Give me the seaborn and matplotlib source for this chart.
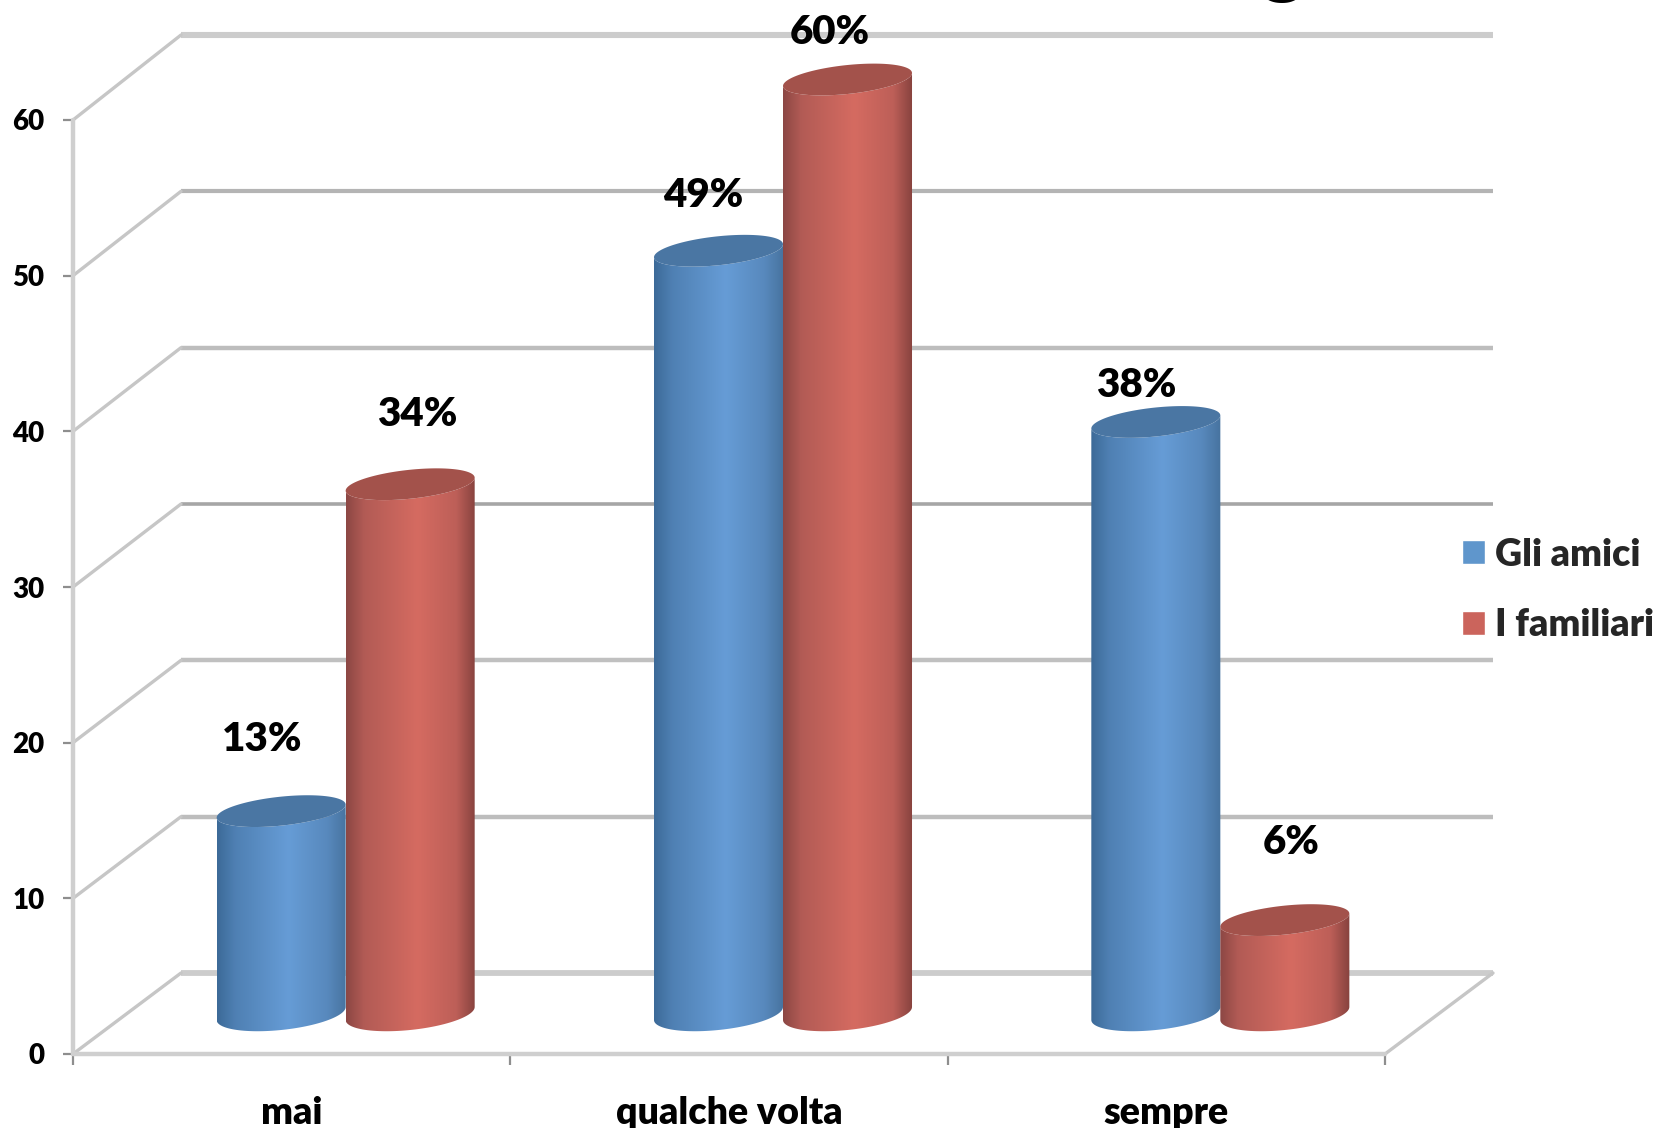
import numpy as np
import pandas as pd
import matplotlib
matplotlib.use("Agg")
import matplotlib.pyplot as plt
from matplotlib.colors import LinearSegmentedColormap
from matplotlib.path import Path
from matplotlib.patches import PathPatch
from matplotlib.transforms import Affine2D, IdentityTransform
import seaborn as sns

categories = ["mai", "qualche volta", "sempre"]
amici = [13, 49, 38]
familiari = [34, 60, 6]
series_names = ["Gli amici", "I familiari"]
y_ticks = [0, 10, 20, 30, 40, 50, 60]

W, H = 1677, 1128
DEPTH_X, DEPTH_Y = 108, 81          # oblique offset from front plane to back wall, px
WALL_STRETCH = 1.0043               # the back wall reads slightly taller than the front plane
ELL_TILT = 6.5                      # vertical tilt of the cylinder ellipses, px
ELL_TOP, ELL_BOTTOM = 14.5, 16.5    # minor half-heights of the cap and the base, px
WEIGHT = "heavy"

BLUE, RED = "#5f96cc", "#cb645c"
BLUE_CAP, RED_CAP = "#4a76a3", "#a3524b"
blue_shade = LinearSegmentedColormap.from_list(
    "blue_shade", [(0, "#3c6a98"), (0.14, "#4f80b3"), (0.55, "#669cd6"), (0.85, "#5889bd"), (1, "#47739f")])
red_shade = LinearSegmentedColormap.from_list(
    "red_shade", [(0, "#8c4744"), (0.14, "#b25b55"), (0.55, "#d56b61"), (0.85, "#bd5f58"), (1, "#86423e")])

sns.set_theme(style="white")
plt.rcParams["font.family"] = ["Lato", "DejaVu Sans"]
plt.rcParams["font.weight"] = WEIGHT

fig = plt.figure(figsize=(W / 100, H / 100), dpi=100, facecolor="white")
ax = fig.add_axes([73 / W, (H - 1054) / H, (1385 - 73) / W, (1054 - 120) / H])

df = pd.DataFrame({
    "categoria": categories * 2,
    "serie": [series_names[0]] * 3 + [series_names[1]] * 3,
    "valore": amici + familiari,
})
sns.barplot(data=df, x="categoria", y="valore", hue="serie", order=categories,
            hue_order=series_names, palette=[BLUE, RED], saturation=1,
            width=0.59, gap=0, ax=ax, errorbar=None)
ax.set_xlim(-0.5, 2.5)
ax.set_ylim(0, 60)
ax.set_xlabel("")
ax.set_ylabel("")
sns.despine(ax=ax, left=True, bottom=True)

# Axis ticks: values on the left, category boundaries underneath
ax.set_yticks(y_ticks)
ax.tick_params(axis="y", length=7.5, width=1.6, color="#8e8e8e", pad=13,
               labelsize=20, labelcolor="black", left=True)
ax.set_xticks(range(len(categories)))
ax.set_xticklabels(categories)
ax.set_xticks([-0.5, 0.5, 1.5, 2.5], minor=True)
ax.tick_params(axis="x", which="major", length=0, pad=30, labelsize=27, labelcolor="black")
ax.tick_params(axis="x", which="minor", length=8, width=1.6, color="#8e8e8e", bottom=True)
for lab in ax.get_xticklabels() + ax.get_yticklabels():
    lab.set_fontweight(WEIGHT)

to_px = ax.transData
floor_y = to_px.transform((0, 0))[1]
back_wall = to_px + (Affine2D().translate(0, -floor_y).scale(1, WALL_STRETCH)
                     .translate(DEPTH_X, floor_y + DEPTH_Y))
mid_depth = to_px + Affine2D().translate(DEPTH_X / 2, DEPTH_Y / 2)

# Back wall gridlines and the diagonal side lines of the floor and wall
grid_width = {0: 4.2, 10: 3.2, 20: 3.2, 30: 2.6, 40: 3.2, 50: 3.0, 60: 4.4}
grid_color = {0: "#cccccc", 10: "#bdbdbd", 20: "#c0c0c0", 30: "#a6a6a6", 40: "#bdbdbd", 50: "#b4b4b4", 60: "#cccccc"}
for v in y_ticks:
    ax.plot([-0.5, 2.5], [v, v], transform=back_wall, color=grid_color[v],
            lw=grid_width[v], clip_on=False, zorder=1, solid_capstyle="butt")
    x0, y0 = to_px.transform((-0.5, v))
    xb, yb = back_wall.transform((-0.5, v))
    ax.plot([x0, xb], [y0, yb], transform=IdentityTransform(),
            color="#c6c6c6", lw=2.4, clip_on=False, zorder=1)
x0, y0 = to_px.transform((2.5, 0))
xb, yb = back_wall.transform((2.5, 0))
ax.plot([x0, xb], [y0, yb], transform=IdentityTransform(),
        color="#c6c6c6", lw=2.4, clip_on=False, zorder=1)

# Front edges of the frame
ax.plot([-0.5, 2.5], [0, 0], color="#cfcfcf", lw=3.2, clip_on=False, zorder=1.2)
ax.plot([-0.5, -0.5], [0, 60], color="#cfcfcf", lw=3.2, clip_on=False, zorder=1.2)


def half_ellipse(cx, cy, a, b, start, stop, n=60):
    t = np.linspace(start, stop, n)
    return np.column_stack([cx + a * np.cos(t), cy + ELL_TILT * np.cos(t) + b * np.sin(t)])


def draw_cylinder(x, width, value, cmap, cap_color, zorder):
    """Replace a flat bar by a shaded cylinder standing in the middle of the depth."""
    left, base = mid_depth.transform((x, 0))
    right, top = mid_depth.transform((x + width, value))
    cx, a = (left + right) / 2, (right - left) / 2
    outline = np.vstack([half_ellipse(cx, base, a, ELL_BOTTOM, np.pi, 2 * np.pi),
                         half_ellipse(cx, top, a, ELL_TOP, 2 * np.pi, np.pi)])
    grad = np.linspace(0, 1, 256).reshape(1, -1)
    im = ax.imshow(grad, cmap=cmap, aspect="auto", vmin=0, vmax=1, origin="lower",
                   extent=[x, x + width, -2, value + 2], transform=mid_depth,
                   interpolation="bilinear", zorder=zorder)
    im.set_clip_box(fig.bbox)
    im.set_clip_path(Path(np.vstack([outline, outline[0]]), closed=True), IdentityTransform())
    cap = half_ellipse(cx, top, a, ELL_TOP, 0, 2 * np.pi, 120)
    ax.add_patch(PathPatch(Path(cap, closed=True), transform=IdentityTransform(),
                           facecolor=cap_color, edgecolor="none", clip_on=False, zorder=zorder + 0.1))


bars = [bar for container in ax.containers for bar in container]
shades = [blue_shade] * 3 + [red_shade] * 3
caps = [BLUE_CAP] * 3 + [RED_CAP] * 3
# Value labels, shifted by hand (px) from the centre of each cylinder's cap
label_shift = [(-19, 72), (-15, 55), (-20, 36), (7, 70), (-18, 47), (6, 78)]
for i, bar in enumerate(bars):
    x, w, v = bar.get_x(), bar.get_width(), bar.get_height()
    draw_cylinder(x, w, v, shades[i], caps[i], 3 + i * 0.2 + (0.5 if i >= 3 else 0))
    bar.set_visible(False)
    px, py = mid_depth.transform((x + w / 2, v))
    dx, dy = label_shift[i]
    ax.text(px + dx, py + dy, f"{v:.0f}%", transform=IdentityTransform(), ha="center",
            va="center", fontsize=29, fontweight=WEIGHT, color="black", clip_on=False, zorder=10)

ax.set_xlim(-0.5, 2.5)
ax.set_ylim(0, 60)

sns.move_legend(ax, loc="center left", bbox_to_anchor=(1462 / W, 1 - 590 / H),
                bbox_transform=fig.transFigure, frameon=False, title=None, ncol=1,
                fontsize=27, handlelength=0.61, handleheight=0.61, borderpad=0,
                borderaxespad=0, handletextpad=0.27, labelspacing=0.98)
for t in ax.get_legend().get_texts():
    t.set_fontweight(WEIGHT)

# Descender of a heading that runs off the top of the image
fig.text(1283 / W, 1 + 13 / H, "g", ha="center", va="baseline", fontsize=60,
         fontweight=WEIGHT, color="black")

fig.savefig("out.png", dpi=100, facecolor="white")
